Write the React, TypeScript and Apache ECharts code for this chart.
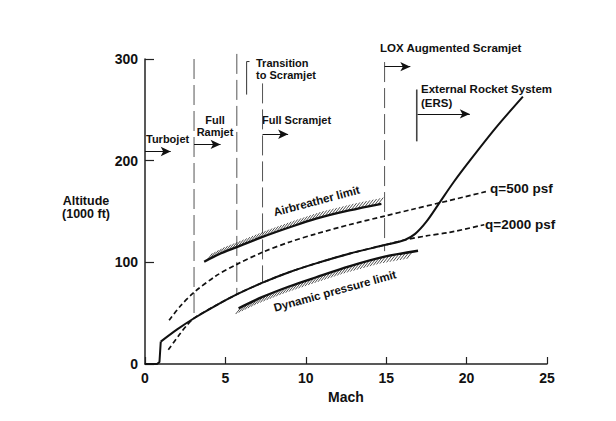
import React, { useEffect, useRef } from "react";
import * as echarts from "echarts";

// ---- data (Mach, altitude in 1000 ft) ----
const machTicks = [0, 5, 10, 15, 20, 25];
const altTicks = [0, 100, 200, 300];

const takeoff = [[0, 0], [0.75, 0], [0.9, 2], [0.98, 22]];
const trajectory = [
  [0.98, 22], [2, 34], [3.05, 45], [4.4, 57.5], [5.71, 68.5], [7.31, 80], [9, 90.5],
  [10.64, 99], [12.7, 108.5], [14.9, 117], [16.15, 122], [16.8, 128], [17.5, 140],
  [18.33, 159], [19.2, 179], [20.2, 200], [21.8, 232], [23.5, 263],
];
const q500 = [
  [1.5, 43], [2.2, 57], [3.05, 70.5], [4.4, 86.5], [5.71, 98], [7.31, 110], [9, 120],
  [10.64, 128], [12.7, 137], [14.9, 145.5], [16.6, 152], [18.33, 158.5], [21.2, 169.5],
];
const q2000 = [
  [1.45, 14], [2.12, 28.5], [2.6, 38], [3.05, 45], [4.4, 57.5], [5.71, 68.5], [7.31, 80],
  [9, 90.5], [10.64, 99], [12.7, 108.5], [14.9, 117], [16.15, 122], [17.5, 126],
  [18.95, 129.5], [21.1, 137],
];
const airbreatherLimit = [
  [3.68, 100.6], [4.6, 108], [5.71, 115], [7.31, 125], [9, 134.5], [10.64, 143],
  [12.7, 151], [14.7, 157.5],
];
const dynamicLimit = [
  [5.82, 54.8], [7.31, 66], [9, 76.5], [10.64, 85.3], [12.7, 96], [14.9, 105.5], [16.98, 111.4],
];

// vertical stage boundaries
const stageMach = [3.05, 5.71, 7.31, 14.9];
const stageTop = [300, 305, 276, 297];
const stageBottom = [45, 68.5, 80, 111];

// regime arrows
const arrowFrom = [0, 3.05, 7.31, 14.9, 16.95];
const arrowTo = [1.6, 4.7, 8.9, 16.5, 20.2];
const arrowAlt = [209, 216, 226, 292.5, 246];

// brackets
const transitionBracket = [[6.5, 297.5], [6.32, 297.5], [6.32, 265]];
const ersBracket = [[16.9, 270], [16.9, 219]];

const FONT = "'Liberation Sans', Arial, Helvetica, sans-serif";
const INK = "#111";

function hatchRender(points: number[][], side: "above" | "below") {
  return (_params: any, api: any) => {
    const px = points.map((p) => api.coord(p));
    const children: any[] = [];
    const spacing = 3.4;
    const len = 9;
    const dir = side === "above" ? [0.62, -0.78] : [-0.62, 0.78];
    let carry = 3;
    let total = 0;
    const segs: number[] = [];
    for (let i = 0; i < px.length - 1; i++) {
      const l = Math.hypot(px[i + 1][0] - px[i][0], px[i + 1][1] - px[i][1]);
      segs.push(l);
      total += l;
    }
    let walked = 0;
    for (let i = 0; i < px.length - 1; i++) {
      const [x0, y0] = px[i];
      const [x1, y1] = px[i + 1];
      const segLen = segs[i];
      let t = carry;
      while (t <= segLen) {
        if (walked + t > total - 3) break;
        const f = t / segLen;
        const x = x0 + (x1 - x0) * f;
        const y = y0 + (y1 - y0) * f;
        children.push({
          type: "line",
          shape: { x1: x, y1: y, x2: x + dir[0] * len, y2: y + dir[1] * len },
          style: { stroke: "#222", lineWidth: 0.8 },
        });
        t += spacing;
      }
      carry = t - segLen;
      walked += segLen;
    }
    return { type: "group", children };
  };
}

function txt(text: string, x: number, y: number, size: number, align = "left", rotation = 0, lineHeight?: number) {
  return {
    type: "text",
    x,
    y,
    rotation,
    silent: true,
    style: {
      text,
      font: `bold ${size}px ${FONT}`,
      fill: INK,
      align,
      verticalAlign: "middle",
      lineHeight: lineHeight || size + 1,
    },
  };
}

export default function App() {
  const ref = useRef<HTMLDivElement>(null);
  useEffect(() => {
    if (!ref.current) return;
    const chart = echarts.init(ref.current, undefined, { renderer: "svg" });
    const deg = Math.PI / 180;

    const stageSeries = stageMach.map((m, i) => ({
      type: "line",
      data: [[m, stageTop[i]], [m, stageBottom[i]]],
      symbol: "none",
      clip: false,
      silent: true,
      z: 1,
      lineStyle: { color: "#555", width: 1, type: [20, 6] },
    }));

    const option: any = {
      animation: false,
      backgroundColor: "#fff",
      grid: { left: 145, right: 69, top: 59, bottom: 57, containLabel: false },
      xAxis: {
        type: "value",
        min: machTicks[0],
        max: machTicks[machTicks.length - 1],
        interval: 5,
        name: "Mach",
        nameLocation: "middle",
        nameGap: 24,
        nameTextStyle: { fontFamily: FONT, fontWeight: "bold", fontSize: 14, color: INK },
        axisLine: { show: true, lineStyle: { color: "#222", width: 1.5 } },
        axisTick: { show: true, inside: true, length: 7, lineStyle: { color: "#222", width: 1.2 } },
        axisLabel: { fontFamily: FONT, fontWeight: "bold", fontSize: 14, color: INK, margin: 7 },
        splitLine: { show: false },
      },
      yAxis: {
        type: "value",
        min: altTicks[0],
        max: altTicks[altTicks.length - 1],
        interval: 100,
        axisLine: { show: true, lineStyle: { color: "#222", width: 1.5 } },
        axisTick: { show: true, inside: true, length: 9, lineStyle: { color: "#222", width: 1.2 } },
        axisLabel: { fontFamily: FONT, fontWeight: "bold", fontSize: 14, color: INK, margin: 7 },
        splitLine: { show: false },
      },
      graphic: [
        txt("Altitude\n(1000 ft)", 86, 207, 12.5, "center", 0, 13),
        txt("Turbojet", 146, 139, 11),
        txt("Full\nRamjet", 215, 126, 11, "center", 0, 12),
        txt("Transition\nto Scramjet", 256, 68.5, 11, "left", 0, 12),
        txt("Full Scramjet", 262, 120, 11),
        txt("LOX Augmented Scramjet", 380, 48, 11.5),
        txt("External Rocket System\n(ERS)", 421, 96.3, 11.5, "left", 0, 14),
        txt("q=500 psf", 490, 188, 13.5),
        txt("q=2000 psf", 485, 224, 13.5),
        txt("Airbreather limit", 316.5, 201, 11.5, "center", 15 * deg),
        txt("Dynamic pressure limit", 335, 291, 11.5, "center", 15.5 * deg),
      ],
      series: [
        ...stageSeries,
        {
          type: "line",
          data: transitionBracket,
          symbol: "none",
          clip: false,
          silent: true,
          lineStyle: { color: "#333", width: 1 },
        },
        {
          type: "line",
          data: ersBracket,
          symbol: "none",
          clip: false,
          silent: true,
          lineStyle: { color: "#444", width: 1.6 },
        },
        {
          type: "line",
          data: [],
          silent: true,
          markLine: {
            silent: true,
            symbol: ["none", "arrow"],
            symbolSize: [7, 10],
            label: { show: false },
            lineStyle: { color: INK, width: 1, type: "solid" },
            data: arrowFrom.map((f, i) => [
              { coord: [f, arrowAlt[i]] },
              { coord: [arrowTo[i], arrowAlt[i]] },
            ]),
          },
        },
        {
          type: "line",
          data: q500,
          symbol: "none",
          smooth: 0.3,
          silent: true,
          z: 3,
          lineStyle: { color: INK, width: 1.7, type: [5, 3] },
        },
        {
          type: "line",
          data: q2000,
          symbol: "none",
          smooth: 0.3,
          silent: true,
          z: 3,
          lineStyle: { color: INK, width: 1.7, type: [5, 3] },
        },
        {
          type: "line",
          data: takeoff,
          symbol: "none",
          silent: true,
          z: 4,
          lineStyle: { color: INK, width: 2 },
        },
        {
          type: "line",
          data: trajectory,
          symbol: "none",
          smooth: 0.3,
          silent: true,
          z: 4,
          lineStyle: { color: INK, width: 2 },
        },
        {
          type: "line",
          data: airbreatherLimit,
          symbol: "none",
          smooth: 0.3,
          silent: true,
          z: 4,
          lineStyle: { color: INK, width: 2.3 },
        },
        {
          type: "line",
          data: dynamicLimit,
          symbol: "none",
          smooth: 0.3,
          silent: true,
          z: 4,
          lineStyle: { color: INK, width: 2.3 },
        },
        {
          type: "custom",
          data: [[0, 0]],
          clip: false,
          silent: true,
          z: 4,
          renderItem: hatchRender(airbreatherLimit, "above"),
        },
        {
          type: "custom",
          data: [[0, 0]],
          clip: false,
          silent: true,
          z: 4,
          renderItem: hatchRender(dynamicLimit, "below"),
        },
      ],
    };
    chart.setOption(option);
    return () => chart.dispose();
  }, []);
  return (
    <div
      ref={ref}
      style={{ position: "fixed", left: 0, top: 0, width: 616, height: 421, background: "#fff" }}
    />
  );
}
